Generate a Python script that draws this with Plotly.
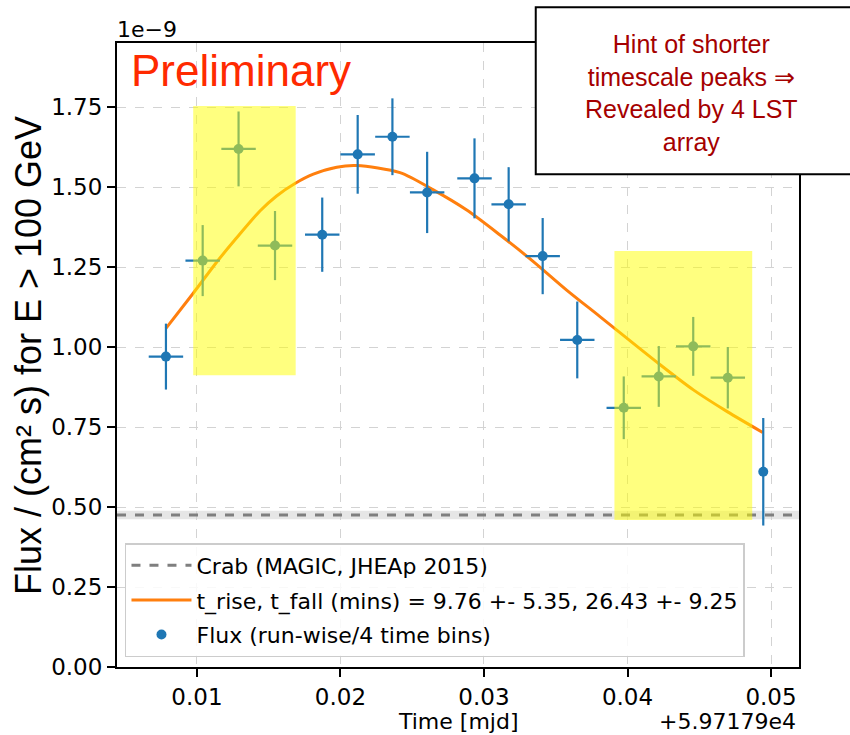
import plotly.graph_objects as go

# ---- data (flux in units of 1e-9 cm^-2 s^-1, time as offset from MJD 59717.9) ----
time_offset = [0.00784, 0.0104, 0.0129, 0.01544, 0.01873, 0.0212, 0.02362, 0.02604,
               0.02934, 0.03172, 0.03409, 0.0365, 0.03974, 0.04218, 0.04458, 0.04699, 0.04946]
time_err = [0.0012, 0.0012, 0.0012, 0.0012, 0.0012, 0.0012, 0.0012, 0.0012,
            0.0012, 0.0012, 0.0012, 0.0012, 0.0012, 0.0012, 0.0012, 0.0012, 0.0]
flux = [0.970, 1.270, 1.619, 1.317, 1.351, 1.602, 1.657, 1.483,
        1.527, 1.446, 1.284, 1.022, 0.810, 0.908, 1.002, 0.904, 0.610]
flux_err = [0.103, 0.111, 0.117, 0.108, 0.116, 0.123, 0.120, 0.127,
            0.125, 0.116, 0.119, 0.120, 0.098, 0.095, 0.092, 0.096, 0.168]

fit_time = [0.00784, 0.00974, 0.01137, 0.01265, 0.01439, 0.01555, 0.01683, 0.01811,
            0.01974, 0.02113, 0.02415, 0.02647, 0.0288, 0.03112, 0.03344,
            0.03576, 0.03808, 0.04215, 0.04459, 0.04695, 0.04942]
fit_flux = [1.058, 1.168, 1.265, 1.335, 1.425, 1.472, 1.511, 1.540,
            1.562, 1.567, 1.545, 1.491, 1.428, 1.350, 1.267,
            1.178, 1.095, 0.949, 0.866, 0.798, 0.733]

crab_flux = 0.475
crab_band = 0.013

highlight_t0 = [0.00974, 0.03909]
highlight_t1 = [0.01688, 0.04869]
highlight_f0 = [0.912, 0.459]
highlight_f1 = [1.753, 1.300]

x_range = [0.00443, 0.05195]
y_range = [0.0, 1.95]
x_ticks = [0.01, 0.02, 0.03, 0.04, 0.05]
y_ticks = [0.0, 0.25, 0.5, 0.75, 1.0, 1.25, 1.5, 1.75]

legend_names = ["Crab (MAGIC, JHEAp 2015)",
                "t_rise, t_fall (mins) = 9.76 +- 5.35, 26.43 +- 9.25",
                "Flux (run-wise/4 time bins)"]

BLUE = "#1f77b4"
ORANGE = "#ff7f0e"
GRAY = "#7f7f7f"

fig = go.Figure()

fig.add_trace(go.Scatter(
    x=x_range, y=[crab_flux, crab_flux], mode="lines",
    line=dict(color=GRAY, width=3, dash="dash"),
    name=legend_names[0], legendgroup="a"))

fig.add_trace(go.Scatter(
    x=fit_time, y=fit_flux, mode="lines",
    line=dict(color=ORANGE, width=3, shape="spline", smoothing=0.8),
    name=legend_names[1], legendgroup="b"))

fig.add_trace(go.Scatter(
    x=time_offset, y=flux, mode="markers",
    marker=dict(color=BLUE, size=10),
    error_y=dict(type="data", array=flux_err, color=BLUE, thickness=2.2, width=0),
    error_x=dict(type="data", array=time_err, color=BLUE, thickness=2.2, width=0),
    name=legend_names[2], legendgroup="c"))

# Crab uncertainty band
fig.add_shape(type="rect", xref="paper", yref="y", x0=0, x1=1,
              y0=crab_flux - crab_band, y1=crab_flux + crab_band,
              fillcolor="rgba(128,128,128,0.2)", line=dict(width=0), layer="below")

# highlighted windows
for t0, t1, f0, f1 in zip(highlight_t0, highlight_t1, highlight_f0, highlight_f1):
    fig.add_shape(type="rect", xref="x", yref="y", x0=t0, x1=t1, y0=f0, y1=f1,
                  fillcolor="rgba(255,255,0,0.5)", line=dict(width=0), layer="above")

# text box (top right)
fig.add_shape(type="rect", xref="paper", yref="paper", x0=0.614, x1=1.09, y0=0.7896, y1=1.0572,
              fillcolor="white", line=dict(color="black", width=2), layer="above")

fig.add_annotation(xref="paper", yref="paper", x=0.843, y=0.9199, xanchor="center", yanchor="middle",
                   text="Hint of shorter<br>timescale peaks ⇒<br>Revealed by 4 LST<br>array",
                   showarrow=False, align="center",
                   font=dict(family="Liberation Sans, Arial", size=25, color="#a50000"))

fig.add_annotation(xref="paper", yref="paper", x=0.017, y=0.9567, xanchor="left", yanchor="middle",
                   text="Preliminary", showarrow=False,
                   font=dict(family="Liberation Sans, Arial", size=44, color="#ff2a00"))

fig.add_annotation(xref="paper", yref="paper", x=-0.003, y=1.0224, xanchor="left", yanchor="middle",
                   text="1e\u22129", showarrow=False,
                   font=dict(family="DejaVu Sans", size=22, color="black"))

fig.add_annotation(xref="paper", yref="paper", x=-0.1305, y=0.5, xanchor="center", yanchor="middle",
                   text="Flux / (cm² s) for E &gt; 100 GeV", textangle=-90, showarrow=False,
                   font=dict(family="Liberation Sans, Arial", size=36, color="black"))

fig.add_annotation(xref="paper", yref="paper", x=0.5, y=-0.088, xanchor="center", yanchor="middle",
                   text="Time [mjd]", showarrow=False,
                   font=dict(family="DejaVu Sans", size=22, color="black"))

fig.add_annotation(xref="paper", yref="paper", x=0.999, y=-0.088, xanchor="right", yanchor="middle",
                   text="+5.97179e4", showarrow=False,
                   font=dict(family="DejaVu Sans", size=22, color="black"))

axis_common = dict(showline=True, linecolor="black", linewidth=2, mirror=True,
                   ticks="outside", ticklen=8, tickwidth=1.5, tickcolor="black",
                   showgrid=True, gridcolor="#d3d3d3", gridwidth=1.2, griddash="dash",
                   zeroline=False, tickfont=dict(family="DejaVu Sans", size=23, color="black"),
                   tickformat=".2f")

fig.update_xaxes(range=x_range, tickvals=x_ticks, **axis_common)
fig.update_yaxes(range=y_range, tickvals=y_ticks, **axis_common)

fig.update_layout(
    width=850, height=735,
    margin=dict(l=117, r=51, t=43, b=68, pad=0),
    plot_bgcolor="white", paper_bgcolor="white",
    showlegend=True,
    legend=dict(x=0.0117, y=0.016, xanchor="left", yanchor="bottom",
                bgcolor="rgba(255,255,255,0.85)", bordercolor="#cccccc", borderwidth=1.5,
                font=dict(family="DejaVu Sans", size=22, color="black"),
                tracegroupgap=3, traceorder="grouped", itemwidth=60),
)

fig.write_html("out.html")
